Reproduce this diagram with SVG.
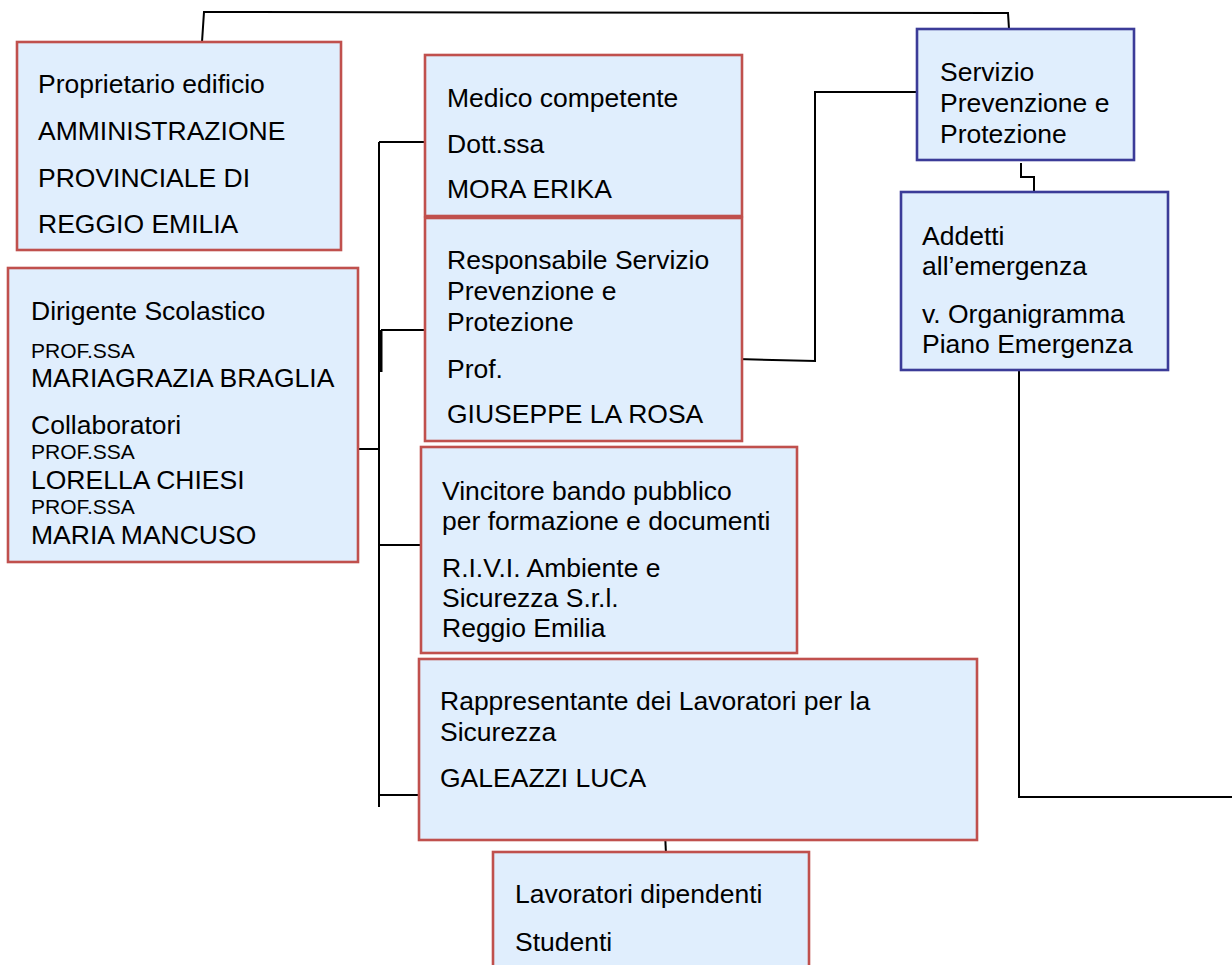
<svg xmlns="http://www.w3.org/2000/svg" width="1232" height="965" viewBox="0 0 1232 965">
<style>
.r{fill:#e0eefd;stroke:#c0504d;stroke-width:2.6}
.b{fill:#e0eefd;stroke:#3b3b98;stroke-width:2.6}
text{font-family:"Liberation Sans",Arial,sans-serif;font-size:26.5px;fill:#000}
.s{font-size:21px}
.c{fill:none;stroke:#000;stroke-width:2}
</style>
<rect width="1232" height="965" fill="#fff"/>
<g id="connectors">
<path class="c" d="M202,42 L204,12 L1008,13 L1009,29"/>
<path class="c" d="M379,142 L379,807"/>
<path class="c" d="M379,142 L426,142"/>
<path class="c" d="M381,330 L425,330 L425,290"/>
<path class="c" d="M381,330 L381,372" style="stroke-width:3"/>
<path class="c" d="M358,449 L379,449"/>
<path class="c" d="M379,545 L421,545"/>
<path class="c" d="M379,795 L423,795"/>
<path class="c" d="M737,359 L815,361 L815,92 L917,92"/>
<path class="c" d="M1021,163 L1021,177 L1034,177 L1034,192"/>
<path class="c" d="M1019,370 L1019,797 L1232,797"/>
<path class="c" d="M665,833 L666,854"/>
</g>
<g id="n-proprietario">
<rect class="r" x="17" y="42" width="324" height="208"/>
<text x="38" y="93">Proprietario edificio</text>
<text x="38" y="140">AMMINISTRAZIONE</text>
<text x="38" y="187">PROVINCIALE DI</text>
<text x="38" y="233">REGGIO EMILIA</text>
</g>
<g id="n-dirigente">
<rect class="r" x="8" y="268" width="350" height="294"/>
<text x="31" y="320">Dirigente Scolastico</text>
<text class="s" x="31" y="358">PROF.SSA</text>
<text x="31" y="387">MARIAGRAZIA BRAGLIA</text>
<text x="31" y="434">Collaboratori</text>
<text class="s" x="31" y="459">PROF.SSA</text>
<text x="31" y="489">LORELLA CHIESI</text>
<text class="s" x="31" y="514">PROF.SSA</text>
<text x="31" y="544">MARIA MANCUSO</text>
</g>
<g id="n-medico">
<rect class="r" x="425" y="55" width="317" height="161"/>
<text x="447" y="107">Medico competente</text>
<text x="447" y="153">Dott.ssa</text>
<text x="447" y="198">MORA ERIKA</text>
</g>
<g id="n-responsabile">
<rect class="r" x="425" y="218" width="317" height="223"/>
<text x="447" y="269">Responsabile Servizio</text>
<text x="447" y="300">Prevenzione e</text>
<text x="447" y="331">Protezione</text>
<text x="447" y="378">Prof.</text>
<text x="447" y="423">GIUSEPPE LA ROSA</text>
</g>
<g id="n-vincitore">
<rect class="r" x="421" y="447" width="376" height="206"/>
<text x="442" y="500">Vincitore bando pubblico</text>
<text x="442" y="530">per formazione e documenti</text>
<text x="442" y="577">R.I.V.I. Ambiente e</text>
<text x="442" y="607">Sicurezza S.r.l.</text>
<text x="442" y="637">Reggio Emilia</text>
</g>
<g id="n-rls">
<rect class="r" x="419" y="659" width="558" height="181"/>
<text x="440" y="710">Rappresentante dei Lavoratori per la</text>
<text x="440" y="741">Sicurezza</text>
<text x="440" y="787">GALEAZZI LUCA</text>
</g>
<g id="n-lavoratori">
<rect class="r" x="493" y="852" width="316" height="130"/>
<text x="515" y="903">Lavoratori dipendenti</text>
<text x="515" y="951">Studenti</text>
</g>
<g id="n-servizio">
<rect class="b" x="917" y="29" width="217" height="131"/>
<text x="940" y="81">Servizio</text>
<text x="940" y="112">Prevenzione e</text>
<text x="940" y="143">Protezione</text>
</g>
<g id="n-addetti">
<rect class="b" x="901" y="192" width="267" height="178"/>
<text x="922" y="245">Addetti</text>
<text x="922" y="275">all’emergenza</text>
<text x="922" y="323">v. Organigramma</text>
<text x="922" y="353">Piano Emergenza</text>
</g>
</svg>
